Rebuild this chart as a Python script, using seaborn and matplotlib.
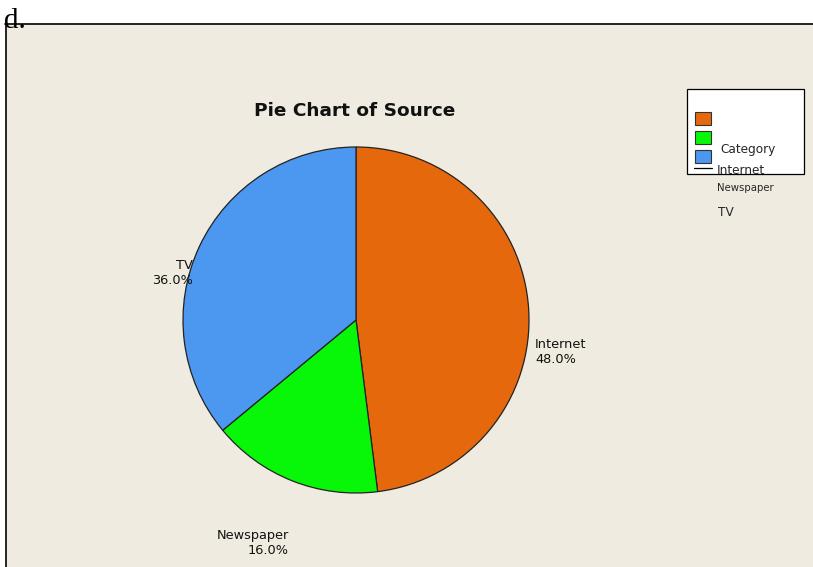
import matplotlib
matplotlib.use("Agg")
import matplotlib.pyplot as plt
from matplotlib.patches import Rectangle
from matplotlib.lines import Line2D
import seaborn as sns

# Survey: main news source
categories = ["Internet", "Newspaper", "TV"]
percentages = [48.0, 16.0, 36.0]
slice_colors = ["#E6680C", "#08F708", "#4C97F0"]

sns.set_theme(style="white")
plt.rcParams["font.family"] = ["DejaVu Sans"]

W, H = 813, 567
fig = plt.figure(figsize=(W / 100, H / 100), dpi=100)
fig.patch.set_facecolor("white")


def fx(px):
    return px / W


def fy(py):
    return 1 - py / H


# beige chart panel with its black top and left rules
panel_color = "#EFEBE0"
fig.patches.append(Rectangle((fx(6), 0), fx(W - 6), fy(24), transform=fig.transFigure,
                             facecolor=panel_color, edgecolor="none", zorder=-5))
fig.lines.append(Line2D([fx(5), 1], [fy(23.5), fy(23.5)], transform=fig.transFigure,
                        color="black", lw=1.2, zorder=-4))
fig.lines.append(Line2D([fx(5.5), fx(5.5)], [0, fy(23.5)], transform=fig.transFigure,
                        color="black", lw=1.2, zorder=-4))
fig.text(fx(4), fy(28), "d.", family="Liberation Serif", fontsize=21, color="black",
         ha="left", va="baseline")

# pie
cx, cy, r = 356, 320, 173
ax = fig.add_axes([fx(cx - r), fy(cy + r), fx(2 * r), (2 * r) / H])
ax.pie(percentages, colors=slice_colors, startangle=90, counterclock=False,
       wedgeprops=dict(edgecolor="#222222", linewidth=0.9))
ax.set_xlim(-1, 1)
ax.set_ylim(-1, 1)
ax.set_aspect("auto")
ax.axis("off")
ax.patch.set_visible(False)

# slice labels
label_fs = 9.3
label_pos = {
    "Internet": (535, 352, "left"),
    "Newspaper": (289, 543, "right"),
    "TV": (193, 273, "right"),
}
for name, pct in zip(categories, percentages):
    x, y, ha = label_pos[name]
    fig.text(fx(x), fy(y), f"{name}\n{pct:.1f}%", fontsize=label_fs, ha=ha,
             va="center", linespacing=1.15, color="#111111")

fig.text(fx(355), fy(111), "Pie Chart of Source", fontsize=13.3, fontweight="bold",
         ha="center", va="center", color="#111111")

# legend box
fig.patches.append(Rectangle((fx(687), fy(174)), fx(117), 85 / H, transform=fig.transFigure,
                             facecolor="white", edgecolor="black", lw=0.9, zorder=1))
for i, col in enumerate(slice_colors):
    top = 112 + i * 19
    fig.patches.append(Rectangle((fx(695), fy(top + 13)), fx(16), 13 / H,
                                 transform=fig.transFigure, facecolor=col,
                                 edgecolor="#333333", lw=0.8, zorder=2))
fig.lines.append(Line2D([fx(694), fx(712)], [fy(168), fy(168)], transform=fig.transFigure,
                        color="black", lw=0.9, zorder=3))
fig.text(fx(720), fy(150), "Category", fontsize=8.7, ha="left", va="center", zorder=4)
fig.text(fx(717), fy(170), categories[0], fontsize=8.7, ha="left", va="center", zorder=4)
fig.text(fx(717), fy(188), categories[1], fontsize=7.3, ha="left", va="center", zorder=4)
fig.text(fx(718), fy(212), categories[2], fontsize=8.7, ha="left", va="center", zorder=4)

fig.savefig("out.png", dpi=100, facecolor=fig.get_facecolor())
